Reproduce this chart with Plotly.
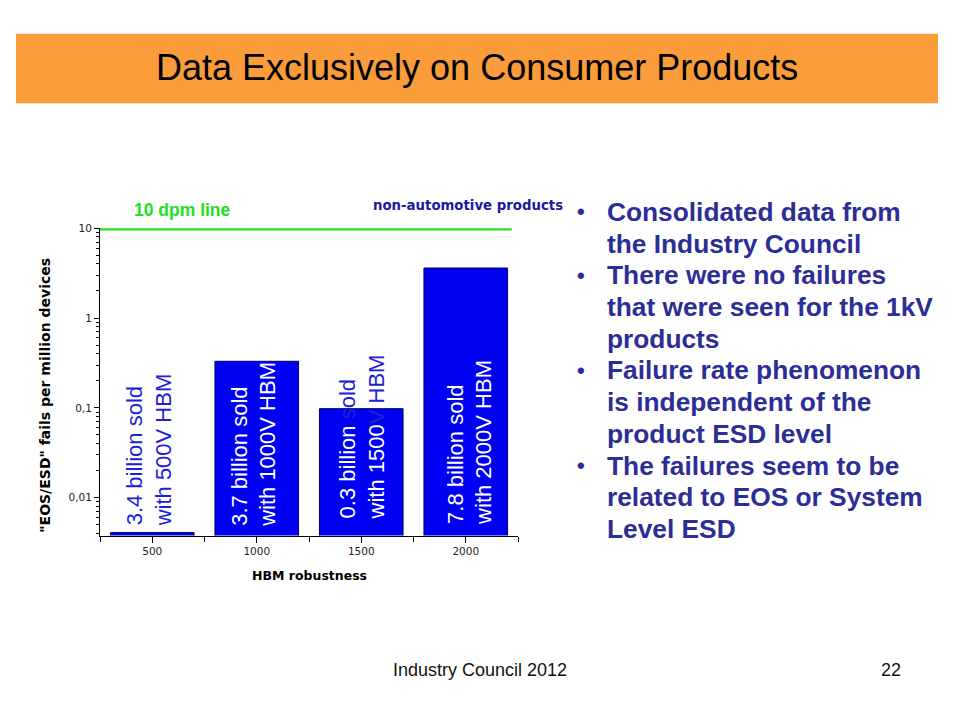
import math
import plotly.graph_objects as go

# ---------------- data ----------------
hbm_levels = [500, 1000, 1500, 2000]
fail_rates = [0.0041, 0.33, 0.098, 3.6]
bar_line1 = ["3.4 billion sold", "3.7 billion sold", "0.3 billion ", "7.8 billion sold"]
bar_line1_out = ["", "", "sold", ""]
bar_line2 = ["with 500V HBM", "with 1000V HBM", "with 1500", "with 2000V HBM"]
bar_line2_out = ["", "", "V HBM", ""]
bar_label_inside = [False, True, True, True]

dpm_level = 10
dpm_line_x = [250, 2220]

y_tick_vals = [0.01, 0.1, 1, 10]
y_tick_text = ["0,01", "0,1", "1", "10"]
x_tick_vals = [500, 1000, 1500, 2000]
x_minor_vals = [250, 750, 1250, 1750, 2250]

bullets = [
    ["Consolidated data from", "the Industry Council"],
    ["There were no failures", "that were seen for the 1kV", "products"],
    ["Failure rate phenomenon", "is independent of the", "product ESD level"],
    ["The failures seem to be", "related to EOS or System", "Level ESD"],
]

title_text = "Data Exclusively on Consumer Products"
footer_left = "Industry Council 2012"
footer_right = "22"

# ---------------- styling ----------------
W, H = 960, 720
BAR_BLUE = "#0000F2"
TEXT_BLUE = "#2020D8"
NAVY = "#2D2D96"
GREEN = "#22E022"
ORANGE = "#FA9C3A"


def px(x):
    return x / W


def py(y):
    return 1 - y / H


y_minor_vals = [m * 10 ** e for e in (-3, -2, -1, 0) for m in range(2, 10)]

fig = go.Figure()

fig.add_trace(go.Bar(
    x=hbm_levels, y=fail_rates, width=400,
    marker=dict(color=BAR_BLUE, line=dict(color="#00006A", width=1)),
    hoverinfo="skip", showlegend=False,
))

fig.add_trace(go.Scatter(
    x=dpm_line_x, y=[dpm_level, dpm_level], mode="lines",
    line=dict(color=GREEN, width=4.5), cliponaxis=False,
    hoverinfo="skip", showlegend=False,
))

annotations = []
label_bottom = [527, 527, 520, 525]
label_dx = [-3, -3, 1, 4]
for i, xv in enumerate(hbm_levels):
    base_col = "white" if bar_label_inside[i] else TEXT_BLUE
    l1 = bar_line1[i]
    if bar_line1_out[i]:
        l1 += f"<span style='color:{TEXT_BLUE}'>{bar_line1_out[i]}</span>"
    l2 = bar_line2[i]
    if bar_line2_out[i]:
        l2 += f"<span style='color:{TEXT_BLUE}'>{bar_line2_out[i]}</span>"
    annotations.append(dict(
        x=xv, xref="x", xshift=label_dx[i], y=py(label_bottom[i]), yref="paper",
        text=l1 + "<br>" + l2, textangle=-90, showarrow=False,
        xanchor="center", yanchor="bottom", align="left",
        font=dict(family="Liberation Sans, Arial", size=22, color=base_col),
    ))

annotations.append(dict(
    x=px(132), y=py(206), xref="paper", yref="paper", text="<b>10 dpm line</b>",
    showarrow=False, xanchor="left", yanchor="middle",
    font=dict(family="Liberation Sans, Arial", size=17.5, color=GREEN),
))
annotations.append(dict(
    x=px(565), y=py(201), xref="paper", yref="paper", text="<b>non-automotive products</b>",
    showarrow=False, xanchor="right", yanchor="middle",
    font=dict(family="DejaVu Sans", size=13.3, color="#1A1AA0"),
))

# bullet text
line_idx = 0
for b in bullets:
    for j, ln in enumerate(b):
        yy = py(207.5 + line_idx * 32.0)
        if j == 0:
            annotations.append(dict(
                x=px(581), y=yy, xref="paper", yref="paper", text="<b>•</b>",
                showarrow=False, xanchor="center", yanchor="middle",
                font=dict(family="Liberation Sans, Arial", size=22, color=NAVY),
            ))
        annotations.append(dict(
            x=px(605), y=yy, xref="paper", yref="paper", text=f"<b>{ln}</b>",
            showarrow=False, xanchor="left", yanchor="middle",
            font=dict(family="Liberation Sans, Arial", size=26.3, color=NAVY),
        ))
        line_idx += 1

annotations.append(dict(
    x=px(477), y=py(62), xref="paper", yref="paper", text=title_text,
    showarrow=False, xanchor="center", yanchor="middle",
    font=dict(family="Liberation Sans, Arial", size=36, color="black"),
))
annotations.append(dict(
    x=px(480), y=py(670), xref="paper", yref="paper", text=footer_left,
    showarrow=False, xanchor="center", yanchor="middle",
    font=dict(family="Liberation Sans, Arial", size=18, color="#111111"),
))
annotations.append(dict(
    x=px(903), y=py(670), xref="paper", yref="paper", text=footer_right,
    showarrow=False, xanchor="right", yanchor="middle",
    font=dict(family="Liberation Sans, Arial", size=18, color="#111111"),
))
annotations.append(dict(
    x=px(45), y=py(393), xref="paper", yref="paper",
    text='<b>"EOS/ESD" fails per million devices</b>', textangle=-90,
    showarrow=False, xanchor="center", yanchor="middle",
    font=dict(family="DejaVu Sans", size=14, color="black"),
))
annotations.append(dict(
    x=px(309), y=py(574), xref="paper", yref="paper", text="<b>HBM robustness</b>",
    showarrow=False, xanchor="center", yanchor="middle",
    font=dict(family="DejaVu Sans", size=12.5, color="black"),
))

shapes = [dict(
    type="rect", xref="paper", yref="paper",
    x0=px(16), x1=px(938), y0=py(98), y1=py(28),
    fillcolor=ORANGE, line=dict(width=0), layer="below",
)]

fig.update_layout(
    width=W, height=H,
    margin=dict(l=0, r=0, t=0, b=0),
    paper_bgcolor="white", plot_bgcolor="white",
    showlegend=False,
    annotations=annotations, shapes=shapes,
    xaxis=dict(
        domain=[px(100), px(518)], range=[250, 2250],
        tickvals=x_tick_vals, ticks="outside", ticklen=6, tickcolor="black",
        showline=True, linecolor="black", linewidth=1,
        showgrid=False, zeroline=False,
        tickfont=dict(family="DejaVu Sans", size=10.5, color="#222222"),
        minor=dict(tickvals=x_minor_vals, ticks="outside", ticklen=5, tickcolor="black", showgrid=False),
    ),
    yaxis=dict(
        type="log", domain=[py(534), py(224)],
        range=[math.log10(0.0038), 1.0],
        tickvals=y_tick_vals, ticktext=y_tick_text,
        ticks="outside", ticklen=5, tickcolor="black",
        showline=True, linecolor="black", linewidth=1,
        showgrid=False, zeroline=False,
        tickfont=dict(family="DejaVu Sans", size=10.5, color="#222222"),
        minor=dict(tickvals=y_minor_vals, ticks="outside", ticklen=3, tickcolor="black", showgrid=False),
    ),
)

fig.write_html(
    "out.html",
    config={"displayModeBar": False},
    post_script="document.body.style.margin='0';document.body.style.padding='0';"
                "document.documentElement.style.overflow='hidden';",
)
